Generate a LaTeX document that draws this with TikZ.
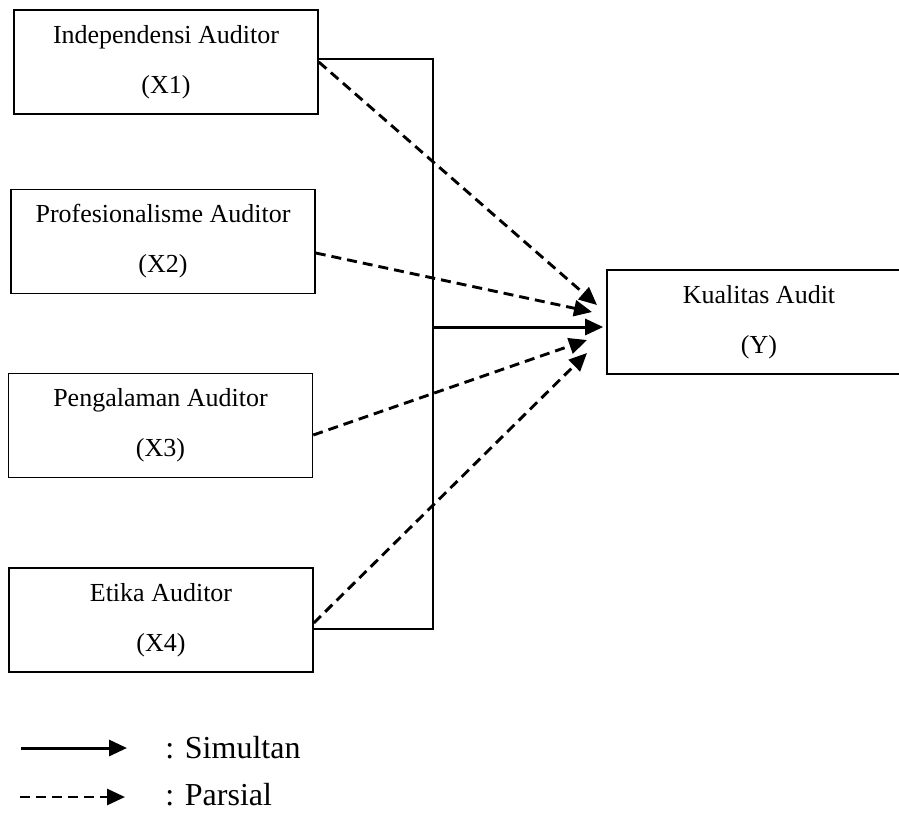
\documentclass[tikz,border=0pt]{standalone}
\usepackage{fontspec}
\setmainfont{Liberation Serif}
\usetikzlibrary{arrows.meta}

\begin{document}
\begin{tikzpicture}[x=0.5pt,y=-0.5pt,
    box/.style={draw,line width=0.8pt,minimum width=152pt,minimum height=52pt,inner sep=0pt,align=center,font=\fontsize{13}{25}\selectfont,execute at begin node=\rule{0pt}{13pt}},
    parsial/.style={line width=1.45pt,dash pattern=on 5pt off 3pt,-{Triangle[length=9pt,width=8pt]}},
    simultan/.style={line width=1.5pt,-{Triangle[length=9pt,width=8pt]}},
    legend/.style={anchor=west,inner sep=0pt,font=\fontsize{16}{19}\selectfont}]
    \useasboundingbox (0,0) rectangle (899,832);
    \node[box] (x1) at (166,62) {Independensi Auditor\\(X1)};
    \node[box] (x2) at (163,241.5) {Profesionalisme Auditor\\(X2)};
    \node[box] (x3) at (160.5,425.5) {Pengalaman Auditor\\(X3)};
    \node[box] (x4) at (161,620) {Etika Auditor\\(X4)};
    \node[box] (y) at (759,322) {Kualitas Audit\\(Y)};
    \coordinate (bt) at (433,59);
    \coordinate (bb) at (433,629);
    \draw[line width=0.8pt] (x1.east |- bt) -- (bt) -- (bb) -- (x4.east |- bb);
    \coordinate (t1) at (597,305);
    \coordinate (t2) at (592,312);
    \coordinate (t3) at (587,340);
    \coordinate (t4) at (587,353);
    \coordinate (ty) at ([xshift=-1.5pt,yshift=-2.5pt]y.west);
    \draw[parsial] (x1.east) -- (t1);
    \draw[parsial] ([yshift=-5.75pt]x2.east) -- (t2);
    \draw[parsial] ([yshift=-4.75pt]x3.east) -- (t3);
    \draw[parsial] ([yshift=-1.5pt]x4.east) -- (t4);
    \draw[simultan] (bt |- ty) -- (ty);
    % keterangan
    \node[legend] (lsim) at (165,748) {: Simultan};
    \node[legend] (lpar) at (165,795) {: Parsial};
    \coordinate (ls) at (21,748);
    \coordinate (lp) at (20,797);
    \draw[simultan] (ls) -- ([xshift=-19pt]lsim.west);
    \draw[parsial] (lp) -- ([xshift=-20pt,yshift=-1pt]lpar.west);
\end{tikzpicture}
\end{document}
